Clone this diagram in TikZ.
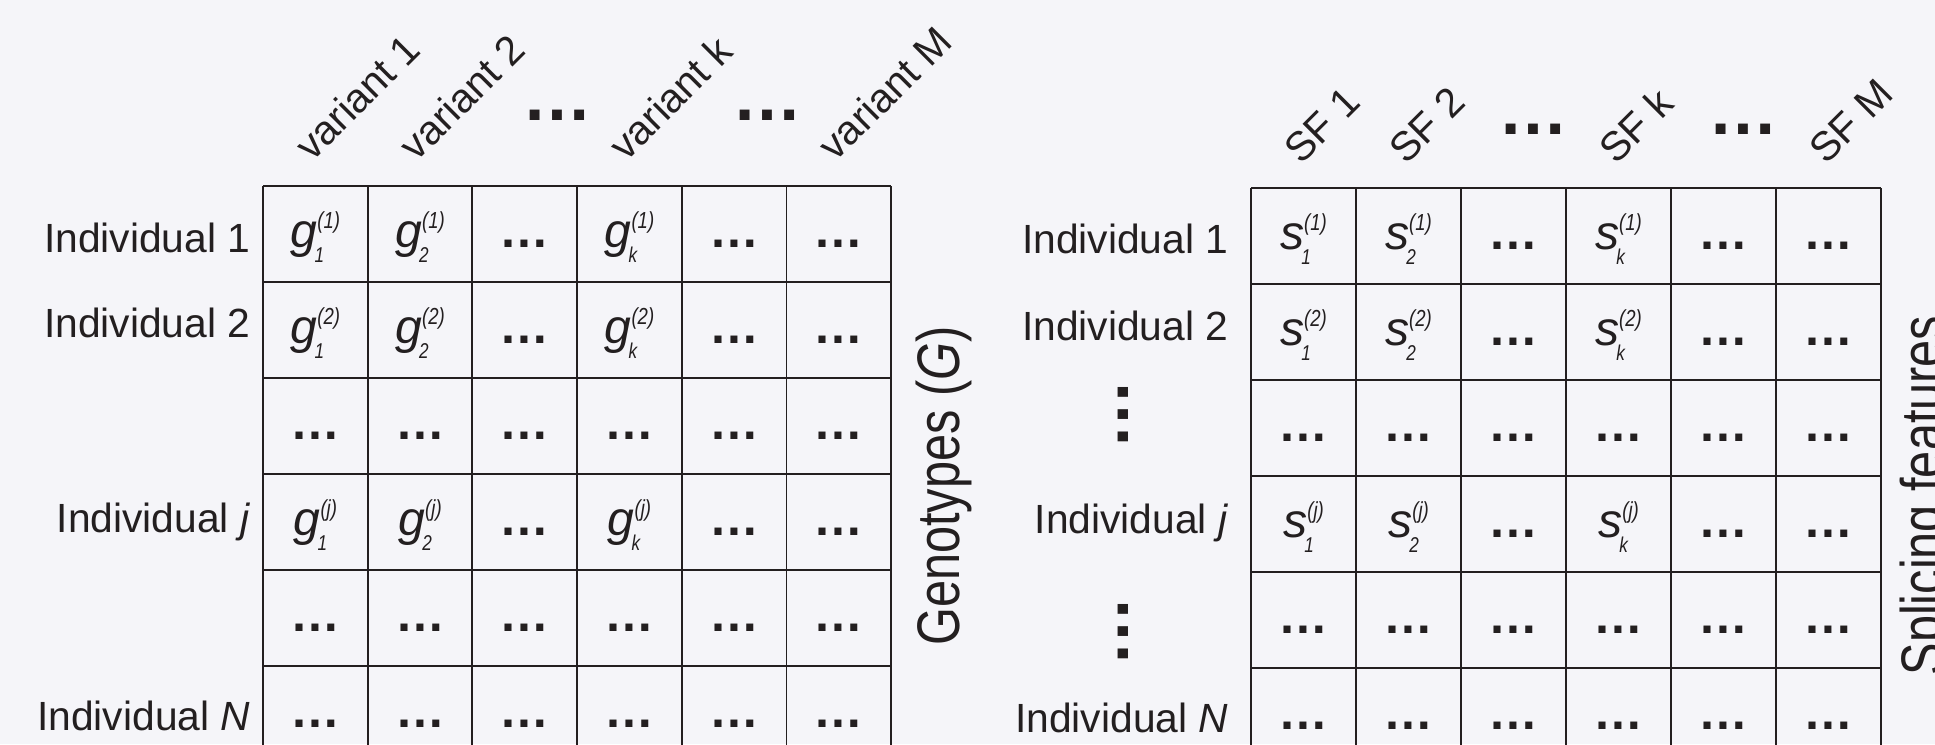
\documentclass[tikz,border=0pt]{standalone}
\usepackage{fontspec}
\setmainfont{Liberation Sans}
\newfontfamily\sidefont[FakeStretch=0.81]{Liberation Sans}
\newfontfamily\idxfont[FakeStretch=0.8]{Liberation Sans}

\definecolor{bgc}{RGB}{245,245,249}
\definecolor{inkc}{RGB}{35,31,32}

\newcommand{\lblsize}{\fontsize{11.6}{14}\selectfont}
\newcommand{\entsize}{\fontsize{13.7}{16}\selectfont}
\newcommand{\supsize}{\idxfont\fontsize{6.6}{7}\selectfont}
\newcommand{\subsize}{\idxfont\fontsize{6.1}{7}\selectfont}
\newcommand{\sidesize}{\sidefont\fontsize{17.1}{20}\selectfont}
\newcommand{\cellval}[3]{\textit{#1}\rlap{\kern-0.06em\raisebox{-0.33em}{\subsize\itshape #2}}\raisebox{0.38em}{\supsize\itshape (#3)}}

\begin{document}
\begin{tikzpicture}[
    every node/.style={text=inkc, inner sep=0pt},
    hline/.style={draw=inkc, line width=0.75pt},
    vline/.style={draw=inkc, line width=0.55pt},
    rowlabel/.style={anchor=base east, font=\lblsize},
    colhead/.style={anchor=south west, rotate=45, font=\lblsize},
    cellent/.style={anchor=base, font=\entsize},
    celldot/.style={anchor=base, font=\fontsize{14.2}{16}\selectfont\bfseries},
    bigdots/.style={font=\fontsize{19.9}{22}\selectfont\bfseries},
    sidelabel/.style={anchor=base, rotate=90, font=\sidesize}
]
    \fill[bgc] (0,0) rectangle (19.35,7.44);
    \useasboundingbox (0,0) rectangle (19.35,7.44);
    \clip (0,0) rectangle (19.35,7.44);

    % genotype matrix
    \begin{scope}[shift={(2.63,5.58)}]
        \foreach \c in {0,...,6}
            \draw[vline] (\c*1.047,0) -- (\c*1.047,-5.76);
        \foreach \r in {0,...,6}
            \draw[hline] (0,-\r*0.96) -- (6.282,-\r*0.96);

        \foreach \r/\rs in {1/1,2/2,4/j}
            \foreach \c/\cs in {1/1,2/2,4/k}
                \node[cellent] (g-\r-\c) at ({(\c-0.5)*1.047},{-(\r-1)*0.96-0.61}) {\cellval{g}{\cs}{\rs}};
        \foreach \r in {1,2,4}
            \foreach \c in {3,5,6}
                \node[celldot] (g-\r-\c) at ({(\c-0.5)*1.047},{-(\r-1)*0.96-0.61}) {…};
        \foreach \r in {3,5,6}
            \foreach \c in {1,...,6}
                \node[celldot] (g-\r-\c) at ({(\c-0.5)*1.047},{-(\r-1)*0.96-0.61}) {…};

        \node[rowlabel] (gl-1) at (-0.12,-0.66) {Individual 1};
        \node[rowlabel] (gl-2) at (-0.12,-1.51) {Individual 2};
        \node[rowlabel] (gl-j) at (-0.12,-3.46) {Individual \textit{j}};
        \node[rowlabel] (gl-N) at (-0.12,-5.44) {Individual \textit{N}};

        \foreach \c/\t in {1/1,2/2,4/k,6/M}
            \node[colhead] (gh-\c) at ({(\c-0.5)*1.047-0.03},0.22) {variant \t};
        \foreach \c in {3,5}
            \node[bigdots] (ghd-\c) at ({(\c-0.5)*1.047+0.33},0.71) {…};

        \node[sidelabel] (gtitle) at (6.96,-3.0) {Genotypes (\textit{G})};
    \end{scope}

    % splicing feature matrix
    \begin{scope}[shift={(12.51,5.56)}]
        \foreach \c in {0,...,6}
            \draw[vline] (\c*1.05,0) -- (\c*1.05,-5.76);
        \foreach \r in {0,...,6}
            \draw[hline] (0,-\r*0.96) -- (6.3,-\r*0.96);

        \foreach \r/\rs in {1/1,2/2,4/j}
            \foreach \c/\cs in {1/1,2/2,4/k}
                \node[cellent] (s-\r-\c) at ({(\c-0.5)*1.05},{-(\r-1)*0.96-0.61}) {\cellval{s}{\cs}{\rs}};
        \foreach \r in {1,2,4}
            \foreach \c in {3,5,6}
                \node[celldot] (s-\r-\c) at ({(\c-0.5)*1.05},{-(\r-1)*0.96-0.61}) {…};
        \foreach \r in {3,5,6}
            \foreach \c in {1,...,6}
                \node[celldot] (s-\r-\c) at ({(\c-0.5)*1.05},{-(\r-1)*0.96-0.61}) {…};

        \node[rowlabel] (sl-1) at (-0.22,-0.65) {Individual 1};
        \node[rowlabel] (sl-2) at (-0.22,-1.52) {Individual 2};
        \node[rowlabel] (sl-j) at (-0.22,-3.45) {Individual \textit{j}};
        \node[rowlabel] (sl-N) at (-0.22,-5.44) {Individual \textit{N}};
        \node[bigdots, rotate=90] (svd-a) at (-1.275,-2.27) {…};
        \node[bigdots, rotate=90] (svd-b) at (-1.275,-4.44) {…};

        \foreach \c/\t in {1/1,2/2,4/k,6/M}
            \node[colhead] (sh-\c) at ({(\c-0.5)*1.05-0.02},0.21) {SF \t};
        \foreach \c in {3,5}
            \node[bigdots] (shd-\c) at ({(\c-0.5)*1.05+0.20},0.585) {…};

        \node[sidelabel] (stitle) at (6.92,-3.075) {Splicing features};
    \end{scope}
\end{tikzpicture}
\end{document}
